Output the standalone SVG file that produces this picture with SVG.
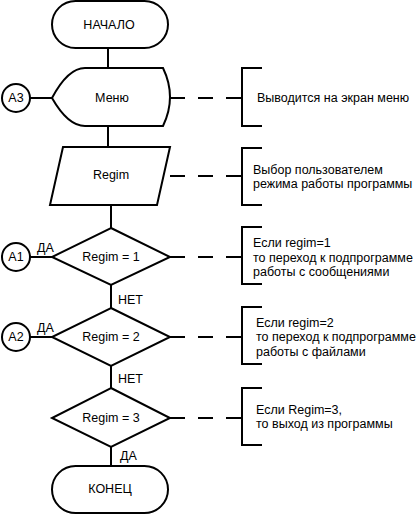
<svg xmlns="http://www.w3.org/2000/svg" width="418" height="515" viewBox="0 0 418 515">
<style>
.s{fill:#fff;stroke:#000;stroke-width:2}
.l{fill:none;stroke:#000;stroke-width:2}
.d{fill:none;stroke:#000;stroke-width:2;stroke-dasharray:15 13}
text{font-family:"Liberation Sans",Arial,sans-serif;font-size:12.5px;fill:#000}
.c{text-anchor:middle;dominant-baseline:central}
</style>
<rect width="418" height="515" fill="#fff"/>
<g id="connectors">
<line class="l" x1="108" y1="48" x2="108" y2="68"/>
<line class="l" x1="108" y1="126" x2="108" y2="147"/>
<line class="l" x1="111" y1="205" x2="111" y2="228"/>
<line class="l" x1="111" y1="285" x2="111" y2="308"/>
<line class="l" x1="111" y1="366" x2="111" y2="388"/>
<line class="l" x1="111" y1="447" x2="111" y2="466"/>
<line class="l" x1="30" y1="98" x2="52" y2="98"/>
<line class="l" x1="30" y1="257" x2="52" y2="257"/>
<line class="l" x1="30" y1="337" x2="52" y2="337"/>
<line class="d" x1="170" y1="98" x2="242" y2="98"/>
<line class="d" x1="170" y1="176" x2="242" y2="176"/>
<line class="d" x1="170" y1="257" x2="242" y2="257"/>
<line class="d" x1="170" y1="337" x2="242" y2="337"/>
<line class="d" x1="170" y1="418" x2="242" y2="418"/>
<text x="37" y="252">ДА</text>
<text x="37" y="332">ДА</text>
<text x="118" y="304">НЕТ</text>
<text x="118" y="383">НЕТ</text>
<text x="120" y="460">ДА</text>
</g>
<g id="start">
<rect class="s" x="52" y="1" width="116" height="47" rx="23.5"/>
<text class="c" x="109" y="25">НАЧАЛО</text>
</g>
<g id="menu">
<path class="s" d="M85,68 L163,68 Q177,97 163,126 L85,126 Q68,126 52,98 Q68,68 85,68 Z"/>
<text class="c" x="112" y="98">Меню</text>
</g>
<g id="a3">
<circle class="s" cx="16" cy="98" r="14"/>
<text class="c" x="16" y="98">А3</text>
</g>
<g id="note-menu">
<path class="l" d="M262,68 H242 V126 H262"/>
<text x="257" y="102">Выводится на экран меню</text>
</g>
<g id="regim">
<path class="s" d="M63,147 L170,147 L157,205 L50,205 Z"/>
<text class="c" x="111" y="175">Regim</text>
</g>
<g id="note-regim">
<path class="l" d="M262,148 H242 V205 H262"/>
<text x="253" y="174">Выбор пользователем</text>
<text x="253" y="188">режима работы программы</text>
</g>
<g id="dec1">
<path class="s" d="M111,228 L170,257 L111,285 L52,257 Z"/>
<text class="c" x="111" y="257">Regim = 1</text>
</g>
<g id="a1">
<circle class="s" cx="16" cy="257" r="14"/>
<text class="c" x="16" y="257">А1</text>
</g>
<g id="note-dec1">
<path class="l" d="M262,227 H242 V284 H262"/>
<text x="253" y="247">Если regim=1</text>
<text x="253" y="262">то переход к подпрограмме</text>
<text x="253" y="276">работы с сообщениями</text>
</g>
<g id="dec2">
<path class="s" d="M111,308 L170,337 L111,366 L52,337 Z"/>
<text class="c" x="111" y="337">Regim = 2</text>
</g>
<g id="a2">
<circle class="s" cx="16" cy="337" r="14"/>
<text class="c" x="16" y="337">А2</text>
</g>
<g id="note-dec2">
<path class="l" d="M262,307 H242 V364 H262"/>
<text x="256" y="327">Если regim=2</text>
<text x="256" y="341">то переход к подпрограмме</text>
<text x="256" y="356">работы с файлами</text>
</g>
<g id="dec3">
<path class="s" d="M111,388 L170,418 L111,447 L52,418 Z"/>
<text class="c" x="111" y="418">Regim = 3</text>
</g>
<g id="note-dec3">
<path class="l" d="M262,388 H242 V445 H262"/>
<text x="256" y="414">Если Regim=3,</text>
<text x="256" y="428">то выход из программы</text>
</g>
<g id="end">
<rect class="s" x="52" y="466" width="116" height="47" rx="23.5"/>
<text class="c" x="110" y="489">КОНЕЦ</text>
</g>
</svg>
